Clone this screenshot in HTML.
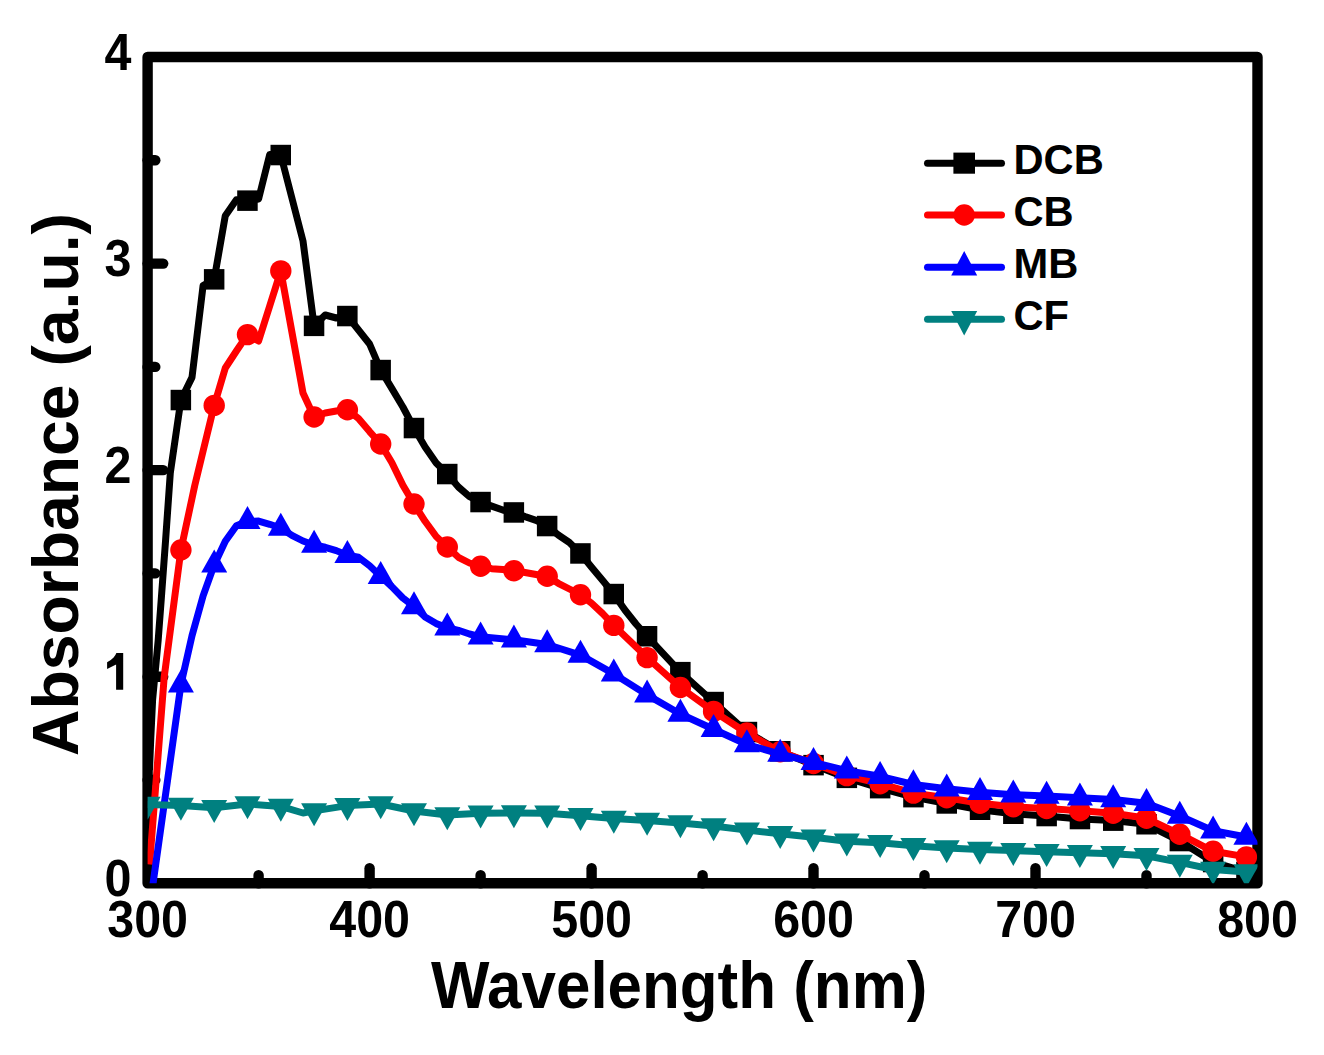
<!DOCTYPE html>
<html><head><meta charset="utf-8"><style>
html,body{margin:0;padding:0;background:#fff;}
svg{display:block;}
text{font-family:"Liberation Sans",sans-serif;font-weight:bold;fill:#000;}
</style></head><body>
<svg width="1324" height="1055" viewBox="0 0 1324 1055">
<rect width="1324" height="1055" fill="#fff"/>
<defs><clipPath id="pc"><rect x="147.6" y="57.0" width="1109.9" height="826.3"/></clipPath></defs>
<g stroke="#000" stroke-width="10.4" stroke-linecap="round" fill="none">
<line x1="147.6" y1="780.0" x2="155.3" y2="780.0"/><line x1="147.6" y1="676.7" x2="163.2" y2="676.7"/><line x1="147.6" y1="573.4" x2="155.3" y2="573.4"/><line x1="147.6" y1="470.1" x2="163.2" y2="470.1"/><line x1="147.6" y1="366.9" x2="155.3" y2="366.9"/><line x1="147.6" y1="263.6" x2="163.2" y2="263.6"/><line x1="147.6" y1="160.3" x2="155.3" y2="160.3"/><line x1="258.6" y1="883.3" x2="258.6" y2="875.1"/><line x1="369.6" y1="883.3" x2="369.6" y2="868.2"/><line x1="480.6" y1="883.3" x2="480.6" y2="875.1"/><line x1="591.6" y1="883.3" x2="591.6" y2="868.2"/><line x1="702.6" y1="883.3" x2="702.6" y2="875.1"/><line x1="813.5" y1="883.3" x2="813.5" y2="868.2"/><line x1="924.5" y1="883.3" x2="924.5" y2="875.1"/><line x1="1035.5" y1="883.3" x2="1035.5" y2="868.2"/><line x1="1146.5" y1="883.3" x2="1146.5" y2="875.1"/>
<rect x="147.6" y="57.0" width="1109.9" height="826.3" stroke-linejoin="round"/>
</g>
<g clip-path="url(#pc)">
<polyline points="149.5,770.0 150.7,740.0 152.6,700.0 158.2,640.0 161.2,600.0 165.6,540.0 170.3,473.0 180.9,400.0 192.0,377.4 203.1,285.5 214.2,279.3 225.3,215.7 236.4,199.8 247.5,200.7 258.6,199.0 269.7,154.5 280.8,155.0 291.9,198.0 303.0,241.0 314.1,325.8 325.2,315.0 336.3,318.0 347.4,316.0 358.5,330.0 369.6,344.0 380.7,370.0 391.8,388.4 402.9,407.0 414.0,428.0 425.1,447.0 436.2,463.0 447.3,474.0 458.4,487.0 469.5,496.7 480.6,502.0 491.7,506.1 502.8,510.0 513.9,512.5 525.0,516.6 536.1,520.4 547.2,526.0 558.3,535.0 569.4,542.5 580.5,553.5 591.6,567.2 602.7,580.5 613.8,594.0 624.9,610.0 636.0,624.0 647.1,636.3 680.4,672.1 713.6,702.0 746.9,732.0 780.2,751.3 813.5,765.1 846.8,777.9 880.1,788.1 913.4,797.1 946.7,803.5 980.0,809.8 1013.3,813.7 1046.6,816.0 1079.9,819.0 1113.2,820.6 1146.5,824.3 1179.8,841.0 1213.1,862.0 1246.4,872.0" fill="none" stroke="#000000" stroke-width="7.0" stroke-linejoin="round" stroke-linecap="butt"/>
<g fill="#000000"><rect x="170.6" y="389.8" width="20.5" height="20.5"/><rect x="203.9" y="269.1" width="20.5" height="20.5"/><rect x="237.2" y="190.4" width="20.5" height="20.5"/><rect x="270.5" y="144.8" width="20.5" height="20.5"/><rect x="303.8" y="315.6" width="20.5" height="20.5"/><rect x="337.1" y="305.8" width="20.5" height="20.5"/><rect x="370.4" y="359.8" width="20.5" height="20.5"/><rect x="403.7" y="417.8" width="20.5" height="20.5"/><rect x="437.0" y="463.8" width="20.5" height="20.5"/><rect x="470.3" y="491.8" width="20.5" height="20.5"/><rect x="503.6" y="502.2" width="20.5" height="20.5"/><rect x="536.9" y="515.8" width="20.5" height="20.5"/><rect x="570.2" y="543.2" width="20.5" height="20.5"/><rect x="603.5" y="583.8" width="20.5" height="20.5"/><rect x="636.8" y="626.0" width="20.5" height="20.5"/><rect x="670.1" y="661.9" width="20.5" height="20.5"/><rect x="703.4" y="691.8" width="20.5" height="20.5"/><rect x="736.7" y="721.8" width="20.5" height="20.5"/><rect x="770.0" y="741.0" width="20.5" height="20.5"/><rect x="803.3" y="754.9" width="20.5" height="20.5"/><rect x="836.6" y="767.6" width="20.5" height="20.5"/><rect x="869.9" y="777.9" width="20.5" height="20.5"/><rect x="903.2" y="786.9" width="20.5" height="20.5"/><rect x="936.5" y="793.2" width="20.5" height="20.5"/><rect x="969.8" y="799.5" width="20.5" height="20.5"/><rect x="1003.1" y="803.5" width="20.5" height="20.5"/><rect x="1036.4" y="805.8" width="20.5" height="20.5"/><rect x="1069.7" y="808.8" width="20.5" height="20.5"/><rect x="1103.0" y="810.4" width="20.5" height="20.5"/><rect x="1136.3" y="814.0" width="20.5" height="20.5"/><rect x="1169.6" y="830.8" width="20.5" height="20.5"/><rect x="1202.9" y="851.8" width="20.5" height="20.5"/><rect x="1236.2" y="861.8" width="20.5" height="20.5"/></g>
<polyline points="149.6,864.5 164.2,677.0 180.9,550.0 194.7,485.8 203.1,451.0 214.2,405.4 225.3,368.0 236.4,351.0 247.5,334.6 258.6,341.0 269.7,306.0 280.8,270.9 291.9,332.0 303.0,393.0 314.1,417.0 325.2,413.0 336.3,411.0 347.4,409.8 358.5,418.4 369.6,431.6 380.7,444.0 391.8,462.5 402.9,485.3 414.0,504.0 425.1,521.3 436.2,536.5 447.3,547.0 458.4,557.3 469.5,563.0 480.6,566.3 491.7,568.7 502.8,569.6 513.9,570.8 525.0,572.5 536.1,574.5 547.2,576.3 558.3,583.3 569.4,589.0 580.5,594.7 591.6,603.2 602.7,613.6 613.8,625.4 647.1,657.6 680.4,687.5 713.6,711.4 746.9,733.0 780.2,751.7 813.5,763.5 846.8,775.6 880.1,783.7 913.4,793.1 946.7,797.8 980.0,803.2 1013.3,806.8 1046.6,808.5 1079.9,810.7 1113.2,813.3 1146.5,818.3 1179.8,834.2 1213.1,851.3 1246.4,856.9" fill="none" stroke="#ff0000" stroke-width="7.0" stroke-linejoin="round" stroke-linecap="butt"/>
<g fill="#ff0000"><circle cx="180.9" cy="550.0" r="10.7"/><circle cx="214.2" cy="405.4" r="10.7"/><circle cx="247.5" cy="334.6" r="10.7"/><circle cx="280.8" cy="270.9" r="10.7"/><circle cx="314.1" cy="417.0" r="10.7"/><circle cx="347.4" cy="409.8" r="10.7"/><circle cx="380.7" cy="444.0" r="10.7"/><circle cx="414.0" cy="504.0" r="10.7"/><circle cx="447.3" cy="547.0" r="10.7"/><circle cx="480.6" cy="566.3" r="10.7"/><circle cx="513.9" cy="570.8" r="10.7"/><circle cx="547.2" cy="576.3" r="10.7"/><circle cx="580.5" cy="594.7" r="10.7"/><circle cx="613.8" cy="625.4" r="10.7"/><circle cx="647.1" cy="657.6" r="10.7"/><circle cx="680.4" cy="687.5" r="10.7"/><circle cx="713.6" cy="711.4" r="10.7"/><circle cx="746.9" cy="733.0" r="10.7"/><circle cx="780.2" cy="751.7" r="10.7"/><circle cx="813.5" cy="763.5" r="10.7"/><circle cx="846.8" cy="775.6" r="10.7"/><circle cx="880.1" cy="783.7" r="10.7"/><circle cx="913.4" cy="793.1" r="10.7"/><circle cx="946.7" cy="797.8" r="10.7"/><circle cx="980.0" cy="803.2" r="10.7"/><circle cx="1013.3" cy="806.8" r="10.7"/><circle cx="1046.6" cy="808.5" r="10.7"/><circle cx="1079.9" cy="810.7" r="10.7"/><circle cx="1113.2" cy="813.3" r="10.7"/><circle cx="1146.5" cy="818.3" r="10.7"/><circle cx="1179.8" cy="834.2" r="10.7"/><circle cx="1213.1" cy="851.3" r="10.7"/><circle cx="1246.4" cy="856.9" r="10.7"/></g>
<polyline points="147.6,922.3 158.7,843.3 169.8,764.3 180.9,684.8 192.0,635.7 203.1,595.9 214.2,564.9 225.3,541.3 236.4,525.8 247.5,521.3 258.6,521.1 269.7,524.3 280.8,528.0 291.9,535.3 303.0,541.0 314.1,545.0 325.2,547.3 336.3,550.6 347.4,555.3 358.5,557.3 369.6,565.8 380.7,576.3 391.8,586.6 402.9,598.0 414.0,606.5 425.1,617.0 436.2,623.6 447.3,627.7 458.4,630.3 469.5,634.0 480.6,636.8 513.9,639.8 547.2,644.5 580.5,655.1 613.8,673.9 647.1,694.9 680.4,714.0 713.6,729.3 746.9,744.5 780.2,754.1 813.5,762.4 846.8,770.7 880.1,776.3 913.4,784.5 946.7,788.7 980.0,792.3 1013.3,794.7 1046.6,796.1 1079.9,797.7 1113.2,799.6 1146.5,803.2 1179.8,816.0 1213.1,830.8 1246.4,837.0" fill="none" stroke="#0000ff" stroke-width="7.0" stroke-linejoin="round" stroke-linecap="butt"/>
<g fill="#0000ff"><polygon points="180.9,669.5 193.9,692.5 167.9,692.5"/><polygon points="214.2,549.6 227.2,572.6 201.2,572.6"/><polygon points="247.5,506.0 260.5,529.0 234.5,529.0"/><polygon points="280.8,512.7 293.8,535.7 267.8,535.7"/><polygon points="314.1,529.7 327.1,552.7 301.1,552.7"/><polygon points="347.4,540.0 360.4,563.0 334.4,563.0"/><polygon points="380.7,561.0 393.7,584.0 367.7,584.0"/><polygon points="414.0,591.2 427.0,614.2 401.0,614.2"/><polygon points="447.3,612.4 460.3,635.4 434.3,635.4"/><polygon points="480.6,621.5 493.6,644.5 467.6,644.5"/><polygon points="513.9,624.5 526.9,647.5 500.9,647.5"/><polygon points="547.2,629.2 560.2,652.2 534.2,652.2"/><polygon points="580.5,639.8 593.5,662.8 567.5,662.8"/><polygon points="613.8,658.6 626.8,681.6 600.8,681.6"/><polygon points="647.1,679.6 660.1,702.6 634.1,702.6"/><polygon points="680.4,698.7 693.4,721.7 667.4,721.7"/><polygon points="713.6,714.0 726.6,737.0 700.6,737.0"/><polygon points="746.9,729.2 759.9,752.2 733.9,752.2"/><polygon points="780.2,738.8 793.2,761.8 767.2,761.8"/><polygon points="813.5,747.1 826.5,770.1 800.5,770.1"/><polygon points="846.8,755.4 859.8,778.4 833.8,778.4"/><polygon points="880.1,761.0 893.1,784.0 867.1,784.0"/><polygon points="913.4,769.2 926.4,792.2 900.4,792.2"/><polygon points="946.7,773.4 959.7,796.4 933.7,796.4"/><polygon points="980.0,777.0 993.0,800.0 967.0,800.0"/><polygon points="1013.3,779.4 1026.3,802.4 1000.3,802.4"/><polygon points="1046.6,780.8 1059.6,803.8 1033.6,803.8"/><polygon points="1079.9,782.4 1092.9,805.4 1066.9,805.4"/><polygon points="1113.2,784.3 1126.2,807.3 1100.2,807.3"/><polygon points="1146.5,787.9 1159.5,810.9 1133.5,810.9"/><polygon points="1179.8,800.7 1192.8,823.7 1166.8,823.7"/><polygon points="1213.1,815.5 1226.1,838.5 1200.1,838.5"/><polygon points="1246.4,821.7 1259.4,844.7 1233.4,844.7"/></g>
<polyline points="147.6,804.5 180.9,805.5 214.2,807.8 247.5,804.0 280.8,806.4 303.0,813.0 314.1,810.9 347.4,805.6 380.7,804.0 414.0,811.0 447.3,815.0 480.6,813.2 513.9,812.9 547.2,813.2 580.5,815.7 613.8,818.4 647.1,820.5 680.4,823.0 713.6,826.0 746.9,830.1 780.2,833.7 813.5,837.3 846.8,841.2 880.1,842.8 913.4,845.8 946.7,848.0 980.0,849.4 1013.3,850.6 1046.6,851.8 1079.9,852.8 1113.2,853.7 1146.5,855.8 1179.8,862.4 1213.1,869.5 1246.4,872.0" fill="none" stroke="#008080" stroke-width="7.0" stroke-linejoin="round" stroke-linecap="butt"/>
<g fill="#008080"><polygon points="147.6,819.8 160.6,796.8 134.6,796.8"/><polygon points="180.9,820.8 193.9,797.8 167.9,797.8"/><polygon points="214.2,823.1 227.2,800.1 201.2,800.1"/><polygon points="247.5,819.3 260.5,796.3 234.5,796.3"/><polygon points="280.8,821.7 293.8,798.7 267.8,798.7"/><polygon points="314.1,826.2 327.1,803.2 301.1,803.2"/><polygon points="347.4,820.9 360.4,797.9 334.4,797.9"/><polygon points="380.7,819.3 393.7,796.3 367.7,796.3"/><polygon points="414.0,826.3 427.0,803.3 401.0,803.3"/><polygon points="447.3,830.3 460.3,807.3 434.3,807.3"/><polygon points="480.6,828.5 493.6,805.5 467.6,805.5"/><polygon points="513.9,828.2 526.9,805.2 500.9,805.2"/><polygon points="547.2,828.5 560.2,805.5 534.2,805.5"/><polygon points="580.5,831.0 593.5,808.0 567.5,808.0"/><polygon points="613.8,833.7 626.8,810.7 600.8,810.7"/><polygon points="647.1,835.8 660.1,812.8 634.1,812.8"/><polygon points="680.4,838.3 693.4,815.3 667.4,815.3"/><polygon points="713.6,841.3 726.6,818.3 700.6,818.3"/><polygon points="746.9,845.4 759.9,822.4 733.9,822.4"/><polygon points="780.2,849.0 793.2,826.0 767.2,826.0"/><polygon points="813.5,852.6 826.5,829.6 800.5,829.6"/><polygon points="846.8,856.5 859.8,833.5 833.8,833.5"/><polygon points="880.1,858.1 893.1,835.1 867.1,835.1"/><polygon points="913.4,861.1 926.4,838.1 900.4,838.1"/><polygon points="946.7,863.3 959.7,840.3 933.7,840.3"/><polygon points="980.0,864.7 993.0,841.7 967.0,841.7"/><polygon points="1013.3,865.9 1026.3,842.9 1000.3,842.9"/><polygon points="1046.6,867.1 1059.6,844.1 1033.6,844.1"/><polygon points="1079.9,868.1 1092.9,845.1 1066.9,845.1"/><polygon points="1113.2,869.0 1126.2,846.0 1100.2,846.0"/><polygon points="1146.5,871.1 1159.5,848.1 1133.5,848.1"/><polygon points="1179.8,877.7 1192.8,854.7 1166.8,854.7"/><polygon points="1213.1,884.8 1226.1,861.8 1200.1,861.8"/><polygon points="1246.4,887.3 1259.4,864.3 1233.4,864.3"/></g>

</g>
<g font-size="52.5" text-anchor="end">
<text transform="translate(131.5,896.1) scale(0.922,1)">0</text><path d="M116.4,653.1 L123.2,653.1 L123.2,689.8 L116.1,689.8 L116.1,664.4 L107.1,668.9 L107.1,662.3 Q111.6,659.9 113.6,657.6 Q115.4,655.6 116.4,653.1 Z" fill="#000"/><text transform="translate(131.5,482.9) scale(0.922,1)">2</text><text transform="translate(131.5,276.4) scale(0.922,1)">3</text><text transform="translate(131.5,69.8) scale(0.922,1)">4</text>
</g>
<g font-size="52.5" text-anchor="middle">
<text transform="translate(147.6,937.3) scale(0.922,1)">300</text><text transform="translate(369.6,937.3) scale(0.922,1)">400</text><text transform="translate(591.6,937.3) scale(0.922,1)">500</text><text transform="translate(813.5,937.3) scale(0.922,1)">600</text><text transform="translate(1035.5,937.3) scale(0.922,1)">700</text><text transform="translate(1257.5,937.3) scale(0.922,1)">800</text>
</g>
<text transform="translate(431.0,1008.0) scale(0.938,1)" font-size="66.0">Wavelength (nm)</text>
<text transform="translate(78.0,756.0) rotate(-90) scale(1,1.020)" font-size="64.3">Absorbance (a.u.)</text>
<line x1="927.5" y1="163.2" x2="1001.5" y2="163.2" stroke="#000000" stroke-width="7" stroke-linecap="round"/><g fill="#000000"><rect x="953.4" y="152.6" width="21.6" height="21.1"/></g><text transform="translate(1013.5,174.2) scale(0.970,1)" font-size="43.0">DCB</text>
<line x1="927.5" y1="215.0" x2="1001.5" y2="215.0" stroke="#ff0000" stroke-width="7" stroke-linecap="round"/><g fill="#ff0000"><circle cx="964.2" cy="215.0" r="10.7"/></g><text transform="translate(1013.5,226.0) scale(0.970,1)" font-size="43.0">CB</text>
<line x1="927.5" y1="267.3" x2="1001.5" y2="267.3" stroke="#0000ff" stroke-width="7" stroke-linecap="round"/><g fill="#0000ff"><polygon points="964.2,251.0 977.2,275.5 951.2,275.5"/></g><text transform="translate(1013.5,278.3) scale(0.970,1)" font-size="43.0">MB</text>
<line x1="927.5" y1="319.2" x2="1001.5" y2="319.2" stroke="#008080" stroke-width="7" stroke-linecap="round"/><g fill="#008080"><polygon points="964.2,335.5 977.2,311.0 951.2,311.0"/></g><text transform="translate(1013.5,330.2) scale(0.970,1)" font-size="43.0">CF</text>

</svg>
</body></html>
